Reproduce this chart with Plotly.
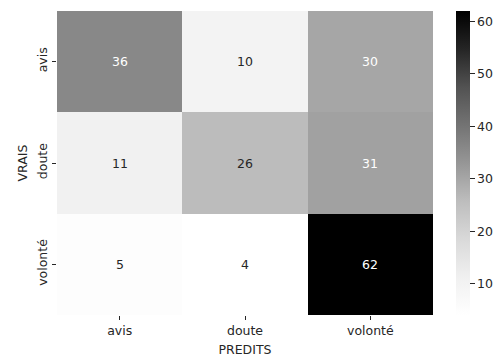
import plotly.graph_objects as go

# Confusion matrix: rows = true labels, columns = predicted labels
labels = ["avis", "doute", "volonté"]
counts = [
    [36, 10, 30],
    [11, 26, 31],
    [5, 4, 62],
]
cbar_ticks = [10, 20, 30, 40, 50, 60]

zmin = min(min(r) for r in counts)
zmax = max(max(r) for r in counts)

# matplotlib "Greys" colormap
greys = ["#ffffff", "#f0f0f0", "#d9d9d9", "#bdbdbd", "#969696",
         "#737373", "#525252", "#252525", "#000000"]
colorscale = [[i / (len(greys) - 1), c] for i, c in enumerate(greys)]

font_family = "DejaVu Sans"
fs = 12.5
ink = "#262626"

fig = go.Figure(
    go.Heatmap(
        z=counts,
        x=labels,
        y=labels,
        zmin=zmin,
        zmax=zmax,
        colorscale=colorscale,
        showscale=True,
        colorbar=dict(
            x=0.909,
            xanchor="left",
            xref="paper",
            xpad=0,
            y=0.5,
            yanchor="middle",
            ypad=0,
            len=1.0,
            lenmode="fraction",
            thickness=14,
            thicknessmode="pixels",
            outlinewidth=0,
            tickvals=cbar_ticks,
            tickprefix="\u00a0",
            ticks="outside",
            ticklen=5,
            tickcolor=ink,
            tickfont=dict(family=font_family, size=fs, color=ink),
        ),
        hoverinfo="skip",
    )
)

# Cell annotations with contrasting text colour
annotations = []
for i, row in enumerate(counts):
    for j, v in enumerate(row):
        frac = (v - zmin) / (zmax - zmin)
        color = "#ffffff" if frac > 0.42 else ink
        annotations.append(dict(
            x=labels[j], y=labels[i], text=str(v), showarrow=False,
            font=dict(family=font_family, size=fs, color=color),
        ))

fig.update_layout(
    width=496,
    height=360,
    margin=dict(l=57, r=0, t=11, b=45),
    paper_bgcolor="white",
    plot_bgcolor="white",
    annotations=annotations,
    font=dict(family=font_family, size=fs, color=ink),
    xaxis=dict(
        domain=[0, 0.8565],
        title=dict(text="PREDITS", font=dict(size=fs), standoff=8),
        ticks="outside", ticklen=4, tickcolor=ink,
        showgrid=False, zeroline=False, showline=False,
        tickfont=dict(size=fs),
    ),
    yaxis=dict(
        title=dict(text="VRAIS", font=dict(size=fs), standoff=4),
        autorange="reversed",
        ticks="outside", ticklen=4, tickcolor=ink,
        tickangle=-90,
        showgrid=False, zeroline=False, showline=False,
        tickfont=dict(size=fs),
    ),
)

fig.write_html("out.html")
